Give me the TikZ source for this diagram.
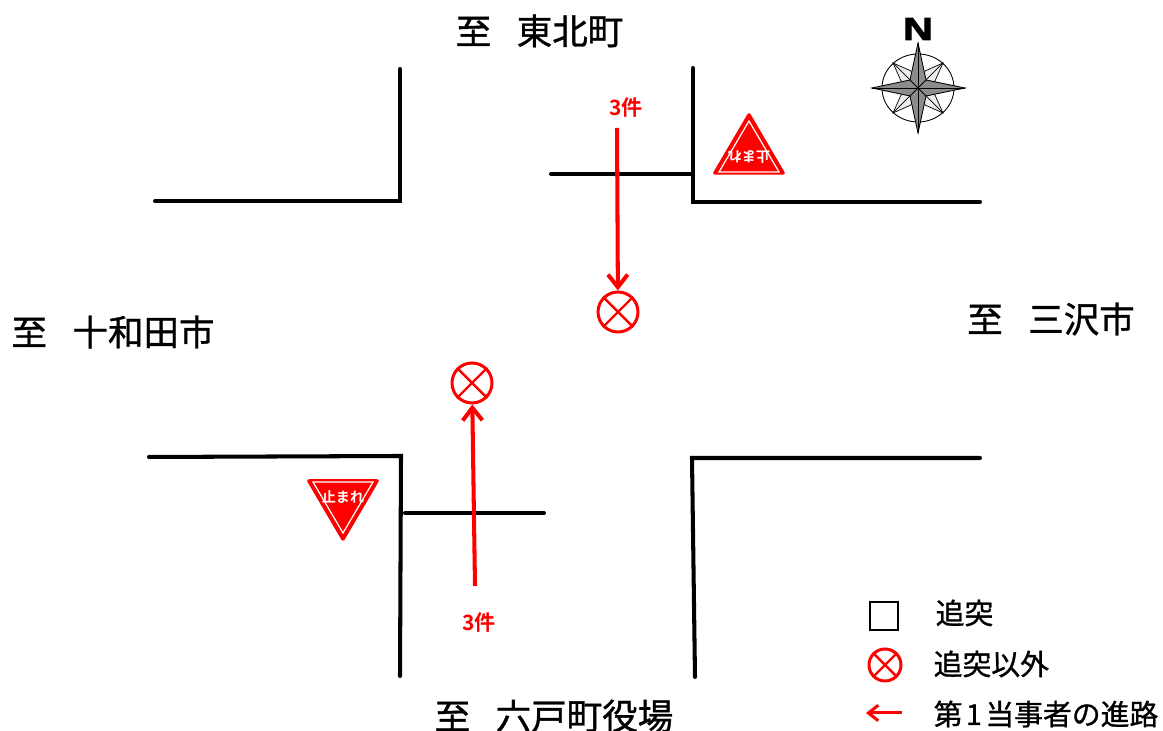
\documentclass[tikz,border=0pt]{standalone}
\usepackage{fontspec}
\setmainfont{Noto Sans CJK JP}[BoldFont={Noto Sans CJK JP Bold}]
\setsansfont{Liberation Sans}[BoldFeatures={FakeBold=2.5}]
\newfontfamily\heavyfont{Noto Sans CJK JP}[FakeBold=1]
\usepackage{tikz}
\usetikzlibrary{arrows.meta}
\tikzset{
  road/.style = {line width = 1.15pt, line cap = round},
  place/.style = {font = \heavyfont\fontsize{10.1}{10}\selectfont},
  legendtext/.style = {font = \heavyfont\fontsize{8.2}{8}\selectfont, anchor = west, inner sep = 0pt},
  crash/.style = {draw = red, circle, line width = 0.85pt, fill = white, inner sep = 0pt},
  course/.style = {-{Straight Barb[length = 3.6pt, width = 5.6pt]}, color = red, line width = 1.15pt},
  count/.style = {color = red, font = \fontsize{6}{6}\selectfont\bfseries},
  signtext/.style = {color = white, inner sep = 0pt, font = \fontsize{4}{4}\selectfont\bfseries}
}

\begin{document}
\begin{tikzpicture}
\useasboundingbox (0, 0) rectangle (11.63, 7.31);
% roads
\draw [road] (1.55, 5.30) -- (4.00, 5.30) -- (4.00, 6.62);
\draw [road] (6.93, 6.63) -- (6.93, 5.29) -- (9.80, 5.29);
\draw [road] (1.49, 2.74) -- (4.01, 2.75) -- (4.00, 0.55);
\draw [road] (9.80, 2.73) -- (6.92, 2.73) -- (6.95, 0.54);
\draw [road] (5.51, 5.57) -- (6.93, 5.57);
\draw [road] (4.05, 2.18) -- (5.44, 2.18);
% places
\node [place] (north) at (5.395, 7.00) {至\hspace{0.72em}東北町};
\node [place] (west) at (1.13, 3.99) {至\hspace{0.72em}十和田市};
\node [place] (east) at (10.51, 4.12) {至\hspace{0.72em}三沢市};
\node [place] (south) at (5.54, 0.15) {至\hspace{0.72em}六戸町役場};
% signs
\draw [red, fill = red, line width = 1pt, line join = round] (7.49, 6.16) -- (7.83, 5.58) -- (7.15, 5.58) -- cycle;
\draw [white, line width = 0.35pt] (7.49, 6.10) -- (7.79, 5.59) -- (7.19, 5.59) -- cycle;
\node [signtext, rotate = 180] (signtop) at (7.49, 5.74) {止まれ};
\draw [red, fill = red, line width = 1pt, line join = round] (3.43, 1.92) -- (3.77, 2.50) -- (3.09, 2.50) -- cycle;
\draw [white, line width = 0.35pt] (3.43, 1.98) -- (3.73, 2.49) -- (3.13, 2.49) -- cycle;
\node [signtext] (signbottom) at (3.43, 2.34) {止まれ};
% compass
\node [font = \sffamily\bfseries\fontsize{9}{9}\selectfont, inner sep = 0pt, xscale = 1.3] (compassn) at (9.18, 7.02) {N};
\begin{scope}[shift = {(9.18, 6.43)}]
\draw [line width = 0.25pt] (0, 0) ellipse (0.36 and 0.34);
\foreach \a in {0, 90, 180, 270} {
  \draw [rotate = \a, line width = 0.2pt, fill = gray!15] (0, 0) -- (0.07, 0.17) -- (0.25, 0.25) -- (0.17, 0.07) -- cycle;
  \draw [rotate = \a, line width = 0.2pt] (0, 0) -- (0.25, 0.25);
}
\draw [line width = 0.25pt, fill = gray!90] (0, 0.45) -- (0.08, 0.08) -- (0.47, 0) -- (0.08, -0.08) -- (0, -0.45) -- (-0.08, -0.08) -- (-0.46, 0) -- (-0.08, 0.08) -- cycle;
\draw [line width = 0.25pt] (0, 0.45) -- (0, -0.45);
\draw [line width = 0.25pt] (-0.46, 0) -- (0.47, 0);
\draw [line width = 0.25pt] (-0.08, -0.08) -- (0.08, 0.08);
\draw [line width = 0.25pt] (-0.08, 0.08) -- (0.08, -0.08);
\end{scope}
% accidents
\node [crash, minimum size = 0.40cm] (crashnorth) at (6.18, 4.19) {};
\node [crash, minimum size = 0.40cm] (crashsouth) at (4.72, 3.48) {};
\node [crash, minimum size = 0.32cm] (crashlegend) at (8.85, 0.66) {};
\foreach \n in {crashnorth, crashsouth, crashlegend} {
  \draw [red, line width = 0.7pt] (\n.45) -- (\n.225);
  \draw [red, line width = 0.7pt] (\n.135) -- (\n.315);
}
\node [count] (countnorth) at (6.26, 6.23) {3件};
\node [count] (countsouth) at (4.79, 1.08) {3件};
\coordinate (startnorth) at (6.17, 6.03);
\coordinate (startsouth) at (4.75, 1.45);
\draw [course] (startnorth) -- (crashnorth);
\draw [course] (startsouth) -- (crashsouth);
% legend
\node [draw, line width = 0.55pt, minimum size = 0.28cm, inner sep = 0pt] (boxlegend) at (8.84, 1.15) {};
\node [legendtext] (textbox) at (9.35, 1.18) {追突};
\node [legendtext] (textcrash) at (9.33, 0.67) {追突以外};
\node [legendtext] (textcourse) at (9.33, 0.17) {第\hspace{0.12em}1\hspace{0.12em}当事者の進路};
\coordinate (courseright) at (9.02, 0.18);
\coordinate (courseleft) at (8.66, 0.18);
\draw [-{Straight Barb[length = 2.8pt, width = 4.4pt]}, color = red, line width = 0.85pt] (courseright) -- (courseleft);
\end{tikzpicture}
\end{document}
